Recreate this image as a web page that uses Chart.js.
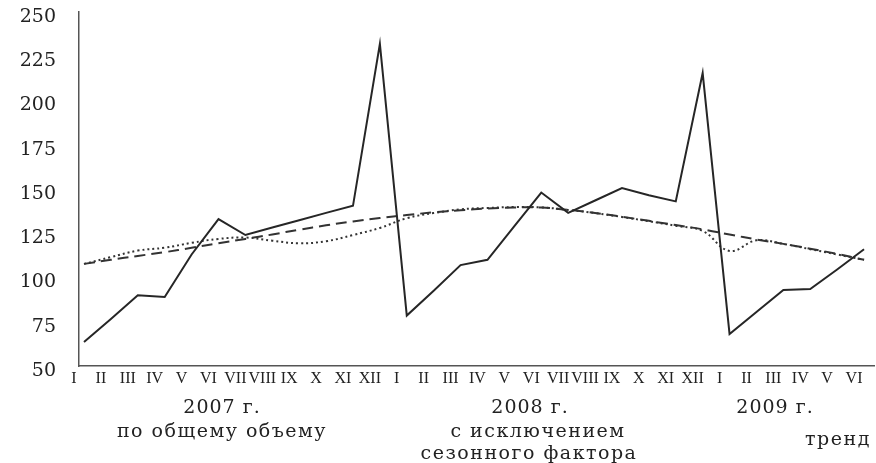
<!DOCTYPE html>
<html>
<head>
<meta charset="utf-8">
<script src="https://cdn.jsdelivr.net/npm/chart.js@4.4.1/dist/chart.umd.min.js"></script>
<style>
html,body{margin:0;padding:0;background:#fff;}
#wrap{width:876px;height:463px;}
</style>
</head>
<body>
<div id="wrap"><canvas id="c" width="876" height="463"></canvas></div>
<script>
// Month tick labels (2007: I–XII, 2008: I–XII, 2009: I–VI)
const monthLabels = ['I','II','III','IV','V','VI','VII','VIII','IX','X','XI','XII',
                     'I','II','III','IV','V','VI','VII','VIII','IX','X','XI','XII',
                     'I','II','III','IV','V','VI'];
const yearLabels = ['2007 г.', '2008 г.', '2009 г.'];
const yTickValues = [50, 75, 100, 125, 150, 175, 200, 225, 250];
const seriesNames = ['по общему объему', 'с исключением сезонного фактора', 'тренд'];

// по общему объему (solid)
const totalVolume = [63.5, 76.5, 90, 89, 113, 133, 124, 128.2, 132.3, 136.5, 140.5, 232,
                     78.5, 92.5, 107, 110, 129, 148, 136.5, 143.5, 150.5, 146.5, 143, 215.5,
                     68, 80.5, 93, 93.5, 104.5, 116];
// с исключением сезонного фактора (dotted)
const seasonallyAdjusted = [107.7, 111.5, 115.2, 116.8, 119.6, 121.8, 122.6, 120.8, 119.3, 120.5, 124, 128,
                            133.5, 136.4, 138.5, 139.3, 139.8, 139.6, 138.2, 136.4, 134.2, 131.8, 129.2, 126.3,
                            115, 121, 119, 116, 113, 110];
// тренд (dashed)
const trend = [107.7, 110, 112.2, 114.3, 116.8, 119.3, 121.8, 124.3, 127, 129.5, 131.7, 133.6,
               135.3, 136.8, 138, 139, 139.6, 139.5, 138.2, 136.5, 134.3, 132, 129.6, 127.2,
               124.3, 121.5, 119, 116.3, 113.3, 110];

const toXY = arr => arr.map((v, i) => ({x: i, y: v}));

const bottomText = {
  id: 'bottomText',
  afterDraw(chart) {
    const ctx = chart.ctx;
    ctx.save();
    ctx.fillStyle = '#222';
    ctx.textAlign = 'center';
    ctx.textBaseline = 'middle';
    ctx.font = '19px "DejaVu Serif"';
    try { ctx.letterSpacing = '1px'; } catch(e) {}
    ctx.fillText(yearLabels[0], 222, 408);
    ctx.fillText(yearLabels[1], 530, 408);
    ctx.fillText(yearLabels[2], 775, 408);
    try { ctx.letterSpacing = '1.5px'; } catch(e) {}
    ctx.fillText(seriesNames[0], 222, 432);
    const parts = seriesNames[1].split(' ');
    ctx.fillText(parts[0] + ' ' + parts[1], 538, 432);
    ctx.fillText(parts[2] + ' ' + parts[3], 529, 454);
    ctx.fillText(seriesNames[2], 838, 440);
    ctx.restore();
  }
};

new Chart(document.getElementById('c'), {
  type: 'line',
  data: {
    datasets: [
      {label: seriesNames[0], data: toXY(totalVolume), borderColor: '#262626', borderWidth: 2,
       pointRadius: 0, tension: 0, fill: false, order: 0},
      {label: seriesNames[1], data: toXY(seasonallyAdjusted), borderColor: '#333', borderWidth: 2,
       borderDash: [2, 3], pointRadius: 0, tension: 0.4, fill: false, order: 1},
      {label: seriesNames[2], data: toXY(trend), borderColor: '#333', borderWidth: 2,
       borderDash: [11, 6], pointRadius: 0, tension: 0.4, fill: false, order: 2}
    ]
  },
  options: {
    responsive: false,
    animation: false,
    layout: {padding: {top: 12, right: 2, left: 0, bottom: 0}},
    plugins: {legend: {display: false}, tooltip: {enabled: false}},
    scales: {
      x: {
        type: 'linear', min: -0.186, max: 29.37,
        afterBuildTicks: s => { s.ticks = monthLabels.map((_, i) => ({value: i})); },
        afterFit: s => { s.height = 97; s.paddingLeft = 0; s.paddingRight = 0; },
        grid: {display: false, drawTicks: false},
        border: {display: true, color: '#555', width: 1.5},
        ticks: {autoSkip: false, maxRotation: 0, minRotation: 0, padding: 3, labelOffset: -10,
                color: '#222', font: {family: 'Liberation Serif', size: 16},
                callback: v => monthLabels[v]}
      },
      y: {
        min: 50, max: 250,
        afterBuildTicks: s => { s.ticks = yTickValues.map(v => ({value: v})); },
        afterFit: s => { s.width = 79; s.paddingTop = 0; s.paddingBottom = 0; },
        grid: {display: false, drawTicks: false},
        border: {display: true, color: '#555', width: 1.5},
        ticks: {padding: 23, labelOffset: 5, color: '#222',
                font: {family: 'DejaVu Serif', size: 19}}
      }
    }
  },
  plugins: [bottomText]
});
</script>
</body>
</html>
